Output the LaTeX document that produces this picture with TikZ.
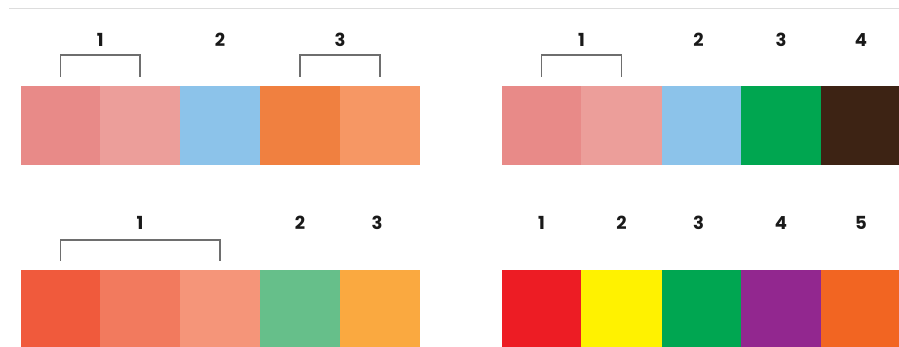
\documentclass[tikz,border=0pt]{standalone}
\usepackage{fontspec}
\setmainfont{Poppins}
\usetikzlibrary{calc}
\definecolor{pinkA}{HTML}{E88A88}
\definecolor{pinkB}{HTML}{EC9E9A}
\definecolor{skyblue}{HTML}{8CC3EA}
\definecolor{orngA}{HTML}{F08040}
\definecolor{orngB}{HTML}{F69764}
\definecolor{grnA}{HTML}{00A650}
\definecolor{brwn}{HTML}{3D2314}
\definecolor{corA}{HTML}{F05A3C}
\definecolor{corB}{HTML}{F27A5E}
\definecolor{corC}{HTML}{F59579}
\definecolor{mint}{HTML}{66BF8A}
\definecolor{amber}{HTML}{FAA940}
\definecolor{rred}{HTML}{ED1C24}
\definecolor{ryel}{HTML}{FFF200}
\definecolor{rgrn}{HTML}{00A651}
\definecolor{rpur}{HTML}{92278F}
\definecolor{rorg}{HTML}{F26522}
\definecolor{brk}{HTML}{6E6E6E}
\definecolor{rule}{HTML}{DDDDDD}
\tikzset{
  swatch/.style={draw=none, inner sep=0pt, outer sep=0pt, anchor=north west, minimum height=79pt},
  num/.style={font=\fontsize{18}{18}\selectfont\bfseries, text=black!90, inner sep=0pt},
  bracket/.style={draw=brk, line width=1.8pt}
}
\begin{document}
\begin{tikzpicture}[x=1pt,y=-1pt]
\clip (0,0) rectangle (899,347);
\fill[white] (0,0) rectangle (899,347);
% top rule
\coordinate (r1) at (9,9);
\coordinate (r2) at (899,9);
\draw[rule, line width=1pt] (r1) -- (r2);

% ---------- top-left ----------
\node[swatch, fill=pinkA, minimum width=79pt] (a1) at (21,86) {};
\node[swatch, fill=pinkB, minimum width=80pt] (a2) at (100,86) {};
\node[swatch, fill=skyblue, minimum width=80pt] (a3) at (180,86) {};
\node[swatch, fill=orngA, minimum width=80pt] (a4) at (260,86) {};
\node[swatch, fill=orngB, minimum width=80pt] (a5) at (340,86) {};
\draw[bracket] ([yshift=9pt]a1.north) |- ([yshift=31pt]a2.north) -- ([yshift=9pt]a2.north);
\draw[bracket] ([yshift=9pt]a4.north) |- ([yshift=31pt]a5.north) -- ([yshift=9pt]a5.north);
\node[num] (an1) at ([yshift=46pt]$(a1.north)!0.5!(a2.north)$) {1};
\node[num] (an2) at ([yshift=46pt]a3.north) {2};
\node[num] (an3) at ([yshift=46pt]$(a4.north)!0.5!(a5.north)$) {3};

% ---------- top-right ----------
\node[swatch, fill=pinkA, minimum width=79pt] (b1) at (502,86) {};
\node[swatch, fill=pinkB, minimum width=81pt] (b2) at (581,86) {};
\node[swatch, fill=skyblue, minimum width=79pt] (b3) at (662,86) {};
\node[swatch, fill=grnA, minimum width=80pt] (b4) at (741,86) {};
\node[swatch, fill=brwn, minimum width=80pt] (b5) at (821,86) {};
\draw[bracket] ([yshift=9pt]b1.north) |- ([yshift=31pt]b2.north) -- ([yshift=9pt]b2.north);
\node[num] (bn1) at ([yshift=46pt]$(b1.north)!0.5!(b2.north)$) {1};
\node[num] (bn2) at ([yshift=46pt,xshift=-3pt]b3.north) {2};
\node[num] (bn3) at ([yshift=46pt]b4.north) {3};
\node[num] (bn4) at ([yshift=46pt]b5.north) {4};

% ---------- bottom-left ----------
\node[swatch, fill=corA, minimum width=79pt] (c1) at (21,270) {};
\node[swatch, fill=corB, minimum width=80pt] (c2) at (100,270) {};
\node[swatch, fill=corC, minimum width=80pt] (c3) at (180,270) {};
\node[swatch, fill=mint, minimum width=80pt] (c4) at (260,270) {};
\node[swatch, fill=amber, minimum width=80pt] (c5) at (340,270) {};
\draw[bracket] ([yshift=9pt]c1.north) |- ([yshift=30pt]c3.north) -- ([yshift=9pt]c3.north);
\node[num] (cn1) at ([yshift=47pt]c2.north) {1};
\node[num] (cn2) at ([yshift=47pt]c4.north) {2};
\node[num] (cn3) at ([yshift=47pt,xshift=-3pt]c5.north) {3};

% ---------- bottom-right ----------
\node[swatch, fill=rred, minimum width=79pt] (d1) at (502,270) {};
\node[swatch, fill=ryel, minimum width=81pt] (d2) at (581,270) {};
\node[swatch, fill=rgrn, minimum width=79pt] (d3) at (662,270) {};
\node[swatch, fill=rpur, minimum width=80pt] (d4) at (741,270) {};
\node[swatch, fill=rorg, minimum width=80pt] (d5) at (821,270) {};
\node[num] (dn1) at ([yshift=47pt]d1.north) {1};
\node[num] (dn2) at ([yshift=47pt]d2.north) {2};
\node[num] (dn3) at ([yshift=47pt,xshift=-3pt]d3.north) {3};
\node[num] (dn4) at ([yshift=47pt]d4.north) {4};
\node[num] (dn5) at ([yshift=47pt]d5.north) {5};
\end{tikzpicture}
\end{document}
